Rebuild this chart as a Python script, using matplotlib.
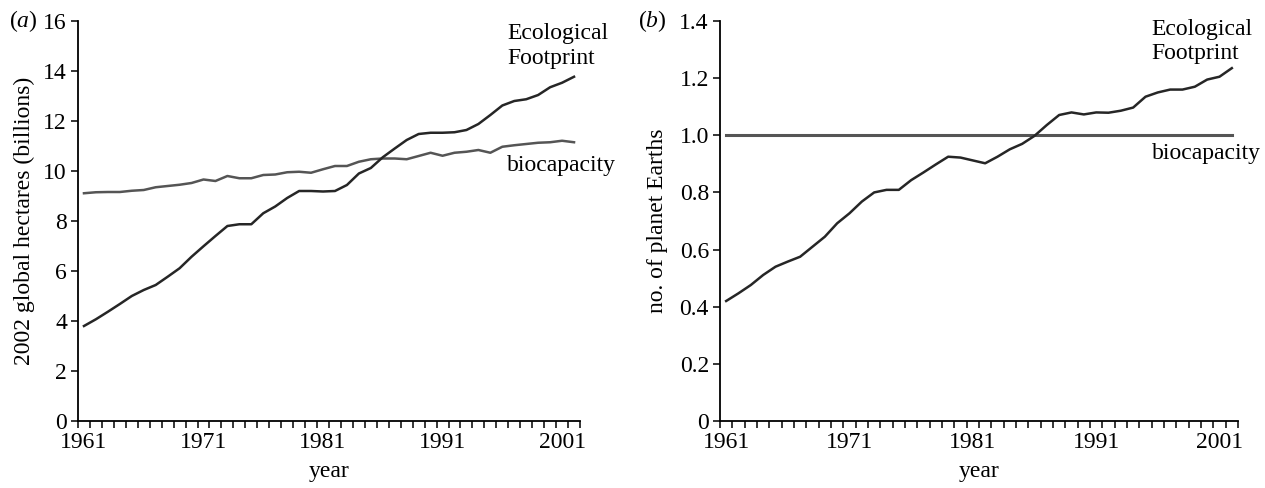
import matplotlib
matplotlib.use('Agg')
import matplotlib.pyplot as plt
from matplotlib.ticker import FixedLocator, FuncFormatter

plt.rcParams['font.family'] = ['Liberation Serif', 'DejaVu Serif']
plt.rcParams['mathtext.fontset'] = 'custom'
plt.rcParams['mathtext.rm'] = 'Liberation Serif'
plt.rcParams['mathtext.it'] = 'Liberation Serif:italic'

years = list(range(1961, 2003))

# (a) 2002 global hectares, billions
footprint_gha = [3.80, 4.07, 4.37, 4.68, 5.00, 5.24, 5.44, 5.77, 6.11, 6.57,
                 6.99, 7.40, 7.80, 7.87, 7.87, 8.31, 8.58, 8.92, 9.20, 9.20,
                 9.18, 9.20, 9.44, 9.90, 10.12, 10.55, 10.90, 11.24, 11.48, 11.53,
                 11.53, 11.55, 11.64, 11.88, 12.24, 12.62, 12.80, 12.87, 13.04, 13.35,
                 13.53, 13.77]
biocap_gha = [9.11, 9.15, 9.16, 9.16, 9.21, 9.24, 9.35, 9.40, 9.45, 9.52,
              9.66, 9.60, 9.80, 9.71, 9.71, 9.84, 9.86, 9.95, 9.97, 9.93,
              10.07, 10.20, 10.20, 10.37, 10.47, 10.50, 10.50, 10.47, 10.60, 10.73,
              10.61, 10.73, 10.77, 10.84, 10.73, 10.97, 11.03, 11.08, 11.13, 11.15,
              11.21, 11.15]

# (b) number of planet Earths
footprint_earths = [0.420, 0.447, 0.476, 0.511, 0.540, 0.558, 0.575, 0.610, 0.645, 0.692,
                    0.727, 0.768, 0.800, 0.809, 0.809, 0.843, 0.870, 0.898, 0.925, 0.922,
                    0.912, 0.902, 0.925, 0.951, 0.970, 0.998, 1.036, 1.071, 1.080, 1.073,
                    1.080, 1.079, 1.086, 1.097, 1.135, 1.150, 1.160, 1.160, 1.170, 1.195,
                    1.205, 1.235]
biocap_earths = [1.0] * len(years)

label_years = [1961, 1971, 1981, 1991, 2001]

FP_COL = '#262626'
BIO_COL = '#555555'
FS = 17

fig = plt.figure(figsize=(12.65, 4.88), dpi=100)
ax1 = fig.add_axes([78 / 1265, 1 - 421 / 488, 502 / 1265, 400 / 488])
ax2 = fig.add_axes([720 / 1265, 1 - 421 / 488, 518 / 1265, 400 / 488])


def style(ax, ymax, ystep, fmt):
    for s in ['top', 'right']:
        ax.spines[s].set_visible(False)
    for s in ['left', 'bottom']:
        ax.spines[s].set_linewidth(1.3)
    ax.set_xlim(1960.5, 2002.5)
    ax.set_ylim(0, ymax)
    ax.xaxis.set_major_locator(FixedLocator(label_years))
    ax.xaxis.set_minor_locator(FixedLocator([y - 0.5 for y in years] + [2002.5]))
    ax.tick_params(axis='x', which='major', length=0, pad=8, labelsize=FS)
    ax.tick_params(axis='x', which='minor', length=5, width=1.1, direction='out')
    n = int(round(ymax / ystep))
    ax.yaxis.set_major_locator(FixedLocator([i * ystep for i in range(n + 1)]))
    ax.yaxis.set_major_formatter(FuncFormatter(fmt))
    ax.tick_params(axis='y', length=5, width=1.1, pad=3, labelsize=FS)
    ax.set_xlabel('year', fontsize=FS, labelpad=6)


style(ax1, 16, 2, lambda v, p: '%d' % round(v))
style(ax2, 1.4, 0.2, lambda v, p: '0' if abs(v) < 1e-9 else '%.1f' % v)

ax1.plot(years, biocap_gha, color=BIO_COL, lw=1.8)
ax1.plot(years, footprint_gha, color=FP_COL, lw=1.8)
ax1.set_ylabel('2002 global hectares (billions)', fontsize=FS, labelpad=6)
ax1.text(1996.4, 15.0, 'Ecological\nFootprint', fontsize=FS, ha='left', va='center',
         linespacing=1.3)
ax1.text(1996.4, 10.24, 'biocapacity', fontsize=FS, ha='left', va='center')

ax2.plot(years, biocap_earths, color=BIO_COL, lw=2.2)
ax2.plot(years, footprint_earths, color=FP_COL, lw=1.8)
ax2.set_ylabel('no. of planet Earths', fontsize=FS, labelpad=8)
ax2.text(1995.5, 1.328, 'Ecological\nFootprint', fontsize=FS, ha='left', va='center',
         linespacing=1.15)
ax2.text(1995.5, 0.938, 'biocapacity', fontsize=FS, ha='left', va='center')

fig.text(23 / 1265, 1 - 21 / 488, r'($\mathit{a}$)', fontsize=FS, ha='center', va='center')
fig.text(652 / 1265, 1 - 21 / 488, r'($\mathit{b}$)', fontsize=FS, ha='center', va='center')

fig.savefig('out.png', dpi=100)
